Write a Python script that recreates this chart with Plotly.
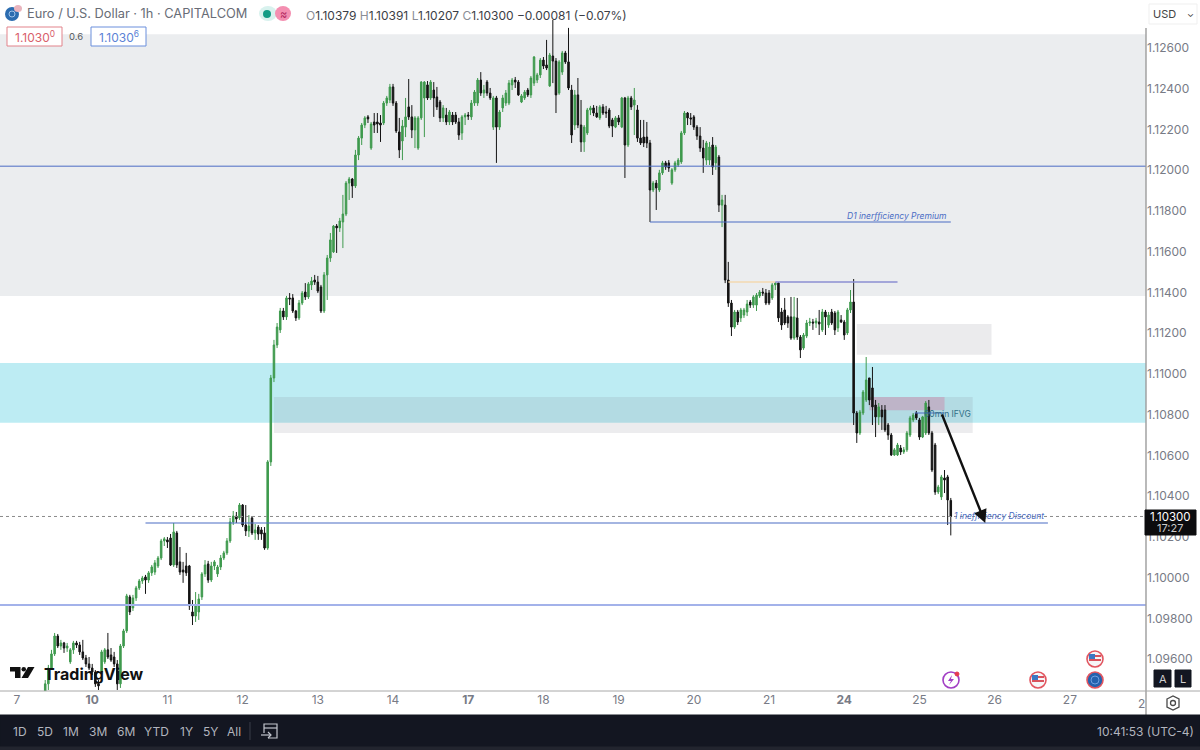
import plotly.graph_objects as go

# Candles, one hourly bar each, starting at bar 9 (bar 0 = day 7)
first_bar = 9

opens = [
    1.09443, 1.09478, 1.09556, 1.09625, 1.09713, 1.09664, 1.09679, 1.09654, 1.09586, 1.09645,
    1.09679, 1.09669, 1.09635, 1.09605, 1.09576, 1.09556, 1.09536, 1.09478, 1.09536, 1.09586,
    1.09645, 1.09620, 1.09610, 1.09576, 1.09478, 1.09664, 1.09738, 1.09905, 1.09851, 1.09900,
    1.09949, 1.09983, 1.10003, 1.09988, 1.10023, 1.10027, 1.10057, 1.10096, 1.10180, 1.10185,
    1.10194, 1.10062, 1.10219, 1.10077, 1.10037, 1.10057, 1.10057, 1.09831, 1.09811, 1.09831,
    1.09905, 1.10018, 1.10067, 1.09988, 1.10057, 1.10018, 1.10052, 1.10096, 1.10121, 1.10180,
    1.10273, 1.10302, 1.10293, 1.10356, 1.10258, 1.10229, 1.10293, 1.10219, 1.10248, 1.10234,
    1.10219, 1.10145, 1.10568, 1.10980, 1.11142, 1.11216, 1.11309, 1.11280, 1.11373, 1.11373,
    1.11309, 1.11275, 1.11348, 1.11402, 1.11378, 1.11437, 1.11461, 1.11451, 1.11427, 1.11309,
    1.11486, 1.11569, 1.11599, 1.11726, 1.11717, 1.11746, 1.11785, 1.11937, 1.11957, 1.11923,
    1.12075, 1.12158, 1.12222, 1.12262, 1.12109, 1.12237, 1.12237, 1.12232, 1.12232, 1.12330,
    1.12345, 1.12409, 1.12330, 1.12188, 1.12144, 1.12212, 1.12311, 1.12262, 1.12198, 1.12109,
    1.12257, 1.12355, 1.12419, 1.12355, 1.12394, 1.12360, 1.12335, 1.12257, 1.12271, 1.12237,
    1.12271, 1.12271, 1.12237, 1.12183, 1.12262, 1.12271, 1.12262, 1.12330, 1.12330, 1.12443,
    1.12379, 1.12433, 1.12379, 1.12212, 1.12355, 1.12212, 1.12306, 1.12330, 1.12330, 1.12419,
    1.12443, 1.12433, 1.12335, 1.12355, 1.12394, 1.12370, 1.12428, 1.12443, 1.12468, 1.12541,
    1.12517, 1.12414, 1.12561, 1.12536, 1.12379, 1.12482, 1.12576, 1.12532, 1.12394, 1.12222,
    1.12370, 1.12222, 1.12139, 1.12183, 1.12296, 1.12306, 1.12281, 1.12257, 1.12311, 1.12286,
    1.12296, 1.12247, 1.12212, 1.12257, 1.12212, 1.12355, 1.12124, 1.12355, 1.12320, 1.12296,
    1.12158, 1.12163, 1.12163, 1.12134, 1.11903, 1.11937, 1.11903, 1.11987, 1.12036, 1.12036,
    1.11937, 1.12002, 1.12026, 1.12041, 1.12183, 1.12281, 1.12257, 1.12262, 1.12212, 1.12168,
    1.12109, 1.12050, 1.12050, 1.12124, 1.12036, 1.12065, 1.11829, 1.11829, 1.11461, 1.11348,
    1.11230, 1.11304, 1.11275, 1.11289, 1.11304, 1.11353, 1.11338, 1.11338, 1.11383, 1.11402,
    1.11397, 1.11397, 1.11373, 1.11437, 1.11446, 1.11304, 1.11314, 1.11280, 1.11280, 1.11176,
    1.11275, 1.11181, 1.11127, 1.11186, 1.11250, 1.11255, 1.11250, 1.11255, 1.11216, 1.11304,
    1.11240, 1.11304, 1.11299, 1.11226, 1.11265, 1.11255, 1.11201, 1.11314, 1.11353, 1.10808,
    1.10710, 1.10808, 1.10872, 1.10980, 1.10931, 1.10847, 1.10789, 1.10823, 1.10823, 1.10749,
    1.10700, 1.10602, 1.10602, 1.10636, 1.10617, 1.10627, 1.10700, 1.10774, 1.10808, 1.10774,
    1.10690, 1.10710, 1.10838, 1.10710, 1.10651, 1.10420, 1.10396, 1.10489, 1.10494, 1.10379,
]

highs = [
    1.09497, 1.09571, 1.09645, 1.09728, 1.09723, 1.09694, 1.09684, 1.09679, 1.09654, 1.09689,
    1.09689, 1.09684, 1.09694, 1.09620, 1.09610, 1.09576, 1.09546, 1.09497, 1.09645, 1.09654,
    1.09728, 1.09654, 1.09635, 1.09595, 1.09674, 1.09748, 1.09920, 1.09915, 1.09915, 1.09959,
    1.09993, 1.10008, 1.10013, 1.10032, 1.10062, 1.10086, 1.10106, 1.10190, 1.10199, 1.10199,
    1.10214, 1.10268, 1.10229, 1.10150, 1.10077, 1.10121, 1.10062, 1.09890, 1.09929, 1.09920,
    1.10027, 1.10086, 1.10082, 1.10077, 1.10086, 1.10062, 1.10111, 1.10131, 1.10194, 1.10293,
    1.10327, 1.10322, 1.10366, 1.10361, 1.10356, 1.10307, 1.10302, 1.10263, 1.10258, 1.10248,
    1.10248, 1.10577, 1.10995, 1.11167, 1.11250, 1.11324, 1.11324, 1.11383, 1.11397, 1.11392,
    1.11314, 1.11363, 1.11407, 1.11446, 1.11451, 1.11476, 1.11486, 1.11481, 1.11437, 1.11500,
    1.11584, 1.11692, 1.11731, 1.11736, 1.11766, 1.11879, 1.11947, 1.11967, 1.11962, 1.12100,
    1.12168, 1.12232, 1.12266, 1.12271, 1.12237, 1.12281, 1.12281, 1.12271, 1.12340, 1.12365,
    1.12424, 1.12424, 1.12340, 1.12257, 1.12247, 1.12355, 1.12448, 1.12320, 1.12266, 1.12266,
    1.12438, 1.12438, 1.12438, 1.12443, 1.12433, 1.12409, 1.12345, 1.12320, 1.12306, 1.12296,
    1.12286, 1.12286, 1.12257, 1.12271, 1.12281, 1.12286, 1.12345, 1.12394, 1.12453, 1.12482,
    1.12419, 1.12443, 1.12404, 1.12365, 1.12365, 1.12296, 1.12370, 1.12394, 1.12443, 1.12453,
    1.12458, 1.12443, 1.12374, 1.12394, 1.12404, 1.12463, 1.12561, 1.12478, 1.12551, 1.12556,
    1.12640, 1.12576, 1.12738, 1.12551, 1.12541, 1.12586, 1.12586, 1.12699, 1.12419, 1.12394,
    1.12453, 1.12345, 1.12222, 1.12306, 1.12316, 1.12320, 1.12316, 1.12320, 1.12325, 1.12316,
    1.12306, 1.12257, 1.12266, 1.12271, 1.12360, 1.12360, 1.12365, 1.12365, 1.12404, 1.12320,
    1.12247, 1.12247, 1.12237, 1.12149, 1.11947, 1.11952, 1.12002, 1.12046, 1.12046, 1.12050,
    1.12011, 1.12046, 1.12060, 1.12193, 1.12291, 1.12286, 1.12281, 1.12271, 1.12222, 1.12212,
    1.12149, 1.12144, 1.12139, 1.12163, 1.12124, 1.12075, 1.11879, 1.11879, 1.11550, 1.11363,
    1.11314, 1.11314, 1.11324, 1.11324, 1.11363, 1.11363, 1.11387, 1.11397, 1.11412, 1.11422,
    1.11417, 1.11412, 1.11446, 1.11451, 1.11451, 1.11324, 1.11373, 1.11289, 1.11378, 1.11378,
    1.11373, 1.11191, 1.11201, 1.11265, 1.11275, 1.11270, 1.11275, 1.11314, 1.11319, 1.11314,
    1.11304, 1.11319, 1.11309, 1.11314, 1.11289, 1.11265, 1.11324, 1.11412, 1.11466, 1.10818,
    1.10823, 1.10921, 1.11083, 1.10980, 1.11034, 1.10872, 1.10857, 1.10847, 1.10847, 1.10759,
    1.10710, 1.10636, 1.10661, 1.10651, 1.10641, 1.10720, 1.10794, 1.10808, 1.10818, 1.10784,
    1.10794, 1.10867, 1.10872, 1.10720, 1.10661, 1.10455, 1.10504, 1.10528, 1.10504, 1.10391,
]

lows = [
    1.09428, 1.09448, 1.09546, 1.09615, 1.09654, 1.09645, 1.09630, 1.09635, 1.09576, 1.09625,
    1.09654, 1.09620, 1.09595, 1.09561, 1.09546, 1.09522, 1.09463, 1.09448, 1.09522, 1.09576,
    1.09600, 1.09586, 1.09561, 1.09448, 1.09458, 1.09654, 1.09728, 1.09816, 1.09836, 1.09885,
    1.09939, 1.09969, 1.09920, 1.09974, 1.10008, 1.10013, 1.10047, 1.10086, 1.10155, 1.10145,
    1.10057, 1.10052, 1.10047, 1.10013, 1.09974, 1.10008, 1.09841, 1.09767, 1.09782, 1.09792,
    1.09890, 1.10003, 1.09974, 1.09978, 1.10037, 1.10003, 1.10037, 1.10086, 1.10111, 1.10170,
    1.10258, 1.10268, 1.10283, 1.10248, 1.10204, 1.10199, 1.10209, 1.10185, 1.10185, 1.10185,
    1.10136, 1.10136, 1.10548, 1.10960, 1.11127, 1.11201, 1.11265, 1.11265, 1.11338, 1.11299,
    1.11260, 1.11265, 1.11338, 1.11363, 1.11368, 1.11412, 1.11437, 1.11397, 1.11299, 1.11299,
    1.11363, 1.11550, 1.11594, 1.11594, 1.11697, 1.11618, 1.11775, 1.11854, 1.11864, 1.11913,
    1.12050, 1.12124, 1.12207, 1.12232, 1.12100, 1.12183, 1.12183, 1.12139, 1.12222, 1.12316,
    1.12330, 1.12316, 1.12183, 1.12060, 1.12050, 1.12163, 1.12247, 1.12158, 1.12109, 1.12100,
    1.12247, 1.12163, 1.12345, 1.12345, 1.12262, 1.12296, 1.12237, 1.12237, 1.12222, 1.12222,
    1.12222, 1.12227, 1.12149, 1.12149, 1.12222, 1.12247, 1.12247, 1.12316, 1.12316, 1.12365,
    1.12355, 1.12365, 1.12345, 1.12198, 1.12036, 1.12198, 1.12286, 1.12316, 1.12320, 1.12394,
    1.12404, 1.12365, 1.12330, 1.12345, 1.12360, 1.12355, 1.12414, 1.12428, 1.12453, 1.12497,
    1.12492, 1.12409, 1.12428, 1.12281, 1.12370, 1.12468, 1.12522, 1.12394, 1.12134, 1.12198,
    1.12207, 1.12090, 1.12090, 1.12173, 1.12271, 1.12266, 1.12257, 1.12247, 1.12271, 1.12257,
    1.12207, 1.12163, 1.12207, 1.12222, 1.12207, 1.11962, 1.12114, 1.12296, 1.12173, 1.12139,
    1.12124, 1.12114, 1.12109, 1.11746, 1.11893, 1.11805, 1.11893, 1.11977, 1.12002, 1.11992,
    1.11928, 1.11992, 1.12016, 1.12031, 1.12173, 1.12222, 1.12222, 1.12198, 1.12149, 1.12090,
    1.11987, 1.12026, 1.12026, 1.11977, 1.12002, 1.11795, 1.11721, 1.11446, 1.11329, 1.11186,
    1.11221, 1.11240, 1.11255, 1.11275, 1.11284, 1.11324, 1.11324, 1.11309, 1.11373, 1.11383,
    1.11338, 1.11338, 1.11363, 1.11412, 1.11255, 1.11216, 1.11240, 1.11226, 1.11167, 1.11167,
    1.11167, 1.11078, 1.11118, 1.11176, 1.11235, 1.11216, 1.11226, 1.11191, 1.11206, 1.11191,
    1.11226, 1.11240, 1.11191, 1.11206, 1.11250, 1.11167, 1.11191, 1.11299, 1.10749, 1.10661,
    1.10700, 1.10798, 1.10862, 1.10847, 1.10749, 1.10690, 1.10749, 1.10725, 1.10715, 1.10676,
    1.10597, 1.10597, 1.10597, 1.10602, 1.10607, 1.10617, 1.10690, 1.10764, 1.10774, 1.10676,
    1.10685, 1.10700, 1.10700, 1.10518, 1.10406, 1.10410, 1.10381, 1.10415, 1.10258, 1.10207,
]

closes = [
    1.09478, 1.09556, 1.09625, 1.09713, 1.09664, 1.09679, 1.09654, 1.09664, 1.09645, 1.09679,
    1.09669, 1.09635, 1.09605, 1.09576, 1.09556, 1.09536, 1.09478, 1.09468, 1.09635, 1.09645,
    1.09610, 1.09595, 1.09576, 1.09478, 1.09664, 1.09738, 1.09910, 1.09831, 1.09900, 1.09949,
    1.09983, 1.09998, 1.09988, 1.10023, 1.10052, 1.10072, 1.10096, 1.10180, 1.10190, 1.10175,
    1.10062, 1.10224, 1.10062, 1.10027, 1.10027, 1.10023, 1.09861, 1.09811, 1.09865, 1.09895,
    1.10018, 1.10062, 1.09988, 1.10057, 1.10077, 1.10052, 1.10096, 1.10121, 1.10180, 1.10273,
    1.10302, 1.10288, 1.10356, 1.10258, 1.10229, 1.10253, 1.10219, 1.10234, 1.10214, 1.10214,
    1.10145, 1.10568, 1.10980, 1.11142, 1.11230, 1.11309, 1.11280, 1.11373, 1.11368, 1.11309,
    1.11275, 1.11348, 1.11397, 1.11378, 1.11442, 1.11456, 1.11451, 1.11407, 1.11309, 1.11486,
    1.11569, 1.11658, 1.11726, 1.11717, 1.11751, 1.11785, 1.11937, 1.11957, 1.11923, 1.12075,
    1.12158, 1.12222, 1.12257, 1.12252, 1.12227, 1.12222, 1.12227, 1.12222, 1.12330, 1.12355,
    1.12409, 1.12330, 1.12193, 1.12100, 1.12217, 1.12262, 1.12262, 1.12198, 1.12257, 1.12257,
    1.12433, 1.12433, 1.12355, 1.12433, 1.12355, 1.12311, 1.12257, 1.12306, 1.12237, 1.12286,
    1.12237, 1.12237, 1.12173, 1.12262, 1.12271, 1.12266, 1.12330, 1.12384, 1.12443, 1.12379,
    1.12394, 1.12379, 1.12355, 1.12355, 1.12212, 1.12286, 1.12355, 1.12379, 1.12428, 1.12443,
    1.12433, 1.12370, 1.12365, 1.12384, 1.12370, 1.12453, 1.12556, 1.12468, 1.12541, 1.12512,
    1.12502, 1.12566, 1.12536, 1.12370, 1.12532, 1.12576, 1.12532, 1.12404, 1.12173, 1.12370,
    1.12222, 1.12139, 1.12212, 1.12296, 1.12306, 1.12281, 1.12262, 1.12311, 1.12281, 1.12281,
    1.12217, 1.12217, 1.12257, 1.12237, 1.12355, 1.12124, 1.12355, 1.12311, 1.12345, 1.12158,
    1.12134, 1.12134, 1.12134, 1.11903, 1.11937, 1.11913, 1.11987, 1.12036, 1.12016, 1.12011,
    1.12002, 1.12036, 1.12050, 1.12183, 1.12281, 1.12257, 1.12252, 1.12212, 1.12168, 1.12109,
    1.12060, 1.12134, 1.12114, 1.12016, 1.12114, 1.11829, 1.11854, 1.11461, 1.11348, 1.11230,
    1.11304, 1.11255, 1.11314, 1.11314, 1.11343, 1.11338, 1.11378, 1.11387, 1.11402, 1.11397,
    1.11348, 1.11348, 1.11437, 1.11446, 1.11275, 1.11240, 1.11250, 1.11250, 1.11176, 1.11280,
    1.11181, 1.11118, 1.11191, 1.11250, 1.11255, 1.11250, 1.11260, 1.11245, 1.11304, 1.11280,
    1.11289, 1.11250, 1.11216, 1.11304, 1.11255, 1.11191, 1.11314, 1.11353, 1.10808, 1.10710,
    1.10813, 1.10911, 1.10970, 1.10872, 1.10838, 1.10789, 1.10838, 1.10789, 1.10725, 1.10700,
    1.10602, 1.10627, 1.10651, 1.10617, 1.10627, 1.10710, 1.10784, 1.10798, 1.10784, 1.10690,
    1.10789, 1.10857, 1.10710, 1.10528, 1.10420, 1.10445, 1.10494, 1.10479, 1.10381, 1.10300,
]

# Axis labels
day_labels = ["7", "<b>10</b>", "11", "12", "13", "14", "<b>17</b>", "18", "19", "20", "21",
              "<b>24</b>", "25", "26", "27"]
day_bars = [0, 24, 48, 72, 96, 120, 144, 168, 192, 216, 240, 264, 288, 312, 336]
price_ticks = [1.096, 1.098, 1.100, 1.102, 1.104, 1.106, 1.108, 1.110, 1.112, 1.114,
               1.116, 1.118, 1.120, 1.122, 1.124, 1.126]
range_buttons = ["1D", "5D", "1M", "3M", "6M", "YTD", "1Y", "5Y", "All"]
range_button_x = [20, 45, 71, 98, 126, 156, 186, 210, 234]

last_price = 1.10300
PLOT_W = 1146
PLOT_H = 691
DARK = "#131621"
BLUE = "#4a6cc4"


def px(x):
    return x / PLOT_W


def py(y):
    return 1 - y / PLOT_H


bars = list(range(first_bar, first_bar + len(closes)))

fig = go.Figure(go.Candlestick(
    x=bars, open=opens, high=highs, low=lows, close=closes,
    increasing=dict(line=dict(color="#3f9a4e", width=1), fillcolor="#3f9a4e"),
    decreasing=dict(line=dict(color="#141414", width=1), fillcolor="#141414"),
    whiskerwidth=0,
    hoverinfo="skip",
    showlegend=False,
))

shapes = []
notes = []


def zone(x0, x1, p0, p1, color):
    shapes.append(dict(type="rect", xref="x", yref="y", x0=x0, x1=x1, y0=p0, y1=p1,
                       fillcolor=color, line_width=0, layer="below"))


def level(x0, x1, p, color, width=1, dash="solid"):
    shapes.append(dict(type="line", xref="x", yref="y", x0=x0, x1=x1, y0=p, y1=p,
                       line=dict(color=color, width=width, dash=dash)))


def box(x0, y0, x1, y1, fill="rgba(0,0,0,0)", line="rgba(0,0,0,0)", width=1, kind="rect"):
    shapes.append(dict(type=kind, xref="paper", yref="paper", x0=px(x0), x1=px(x1),
                       y0=py(y0), y1=py(y1), fillcolor=fill, line=dict(color=line, width=width)))


def poly(points, fill="rgba(0,0,0,0)", line="rgba(0,0,0,0)", width=1, close=True):
    d = "M " + " L ".join(f"{px(x):.5f} {py(y):.5f}" for x, y in points) + (" Z" if close else "")
    shapes.append(dict(type="path", xref="paper", yref="paper", path=d, fillcolor=fill,
                       line=dict(color=line, width=width)))


def note(x, y, text, size=12, color="#555", anchor="left", font="Inter"):
    notes.append(dict(xref="paper", yref="paper", x=px(x), y=py(y), text=text, showarrow=False,
                      xanchor=anchor, yanchor="middle", borderpad=0,
                      font=dict(size=size, color=color, family=font)))


# Zones
x_left, x_right = -5.43, 360.3
zone(x_left, x_right, 1.11383, 1.12668, "#ebedef")
zone(x_left, x_right, 1.10760, 1.11054, "#bdecf3")
zone(82, 305, 1.10710, 1.10887, "rgba(120,123,134,0.14)")
zone(268, 311, 1.11094, 1.11245, "#ebebed")
zone(272, 296, 1.10822, 1.10887, "rgba(216,90,140,0.30)")

# Levels
level(x_left, x_right, 1.12020, "#4a6cc4", 1)
level(202, 298, 1.11746, "#4a6cc4", 1.2)
level(227, 242, 1.11451, "#f3d9b0", 1.5)
level(242, 281, 1.11451, "#8b8ed2", 1.5)
level(41, 329, 1.10268, "#4a6cc4", 1.2)
level(x_left, x_right, 1.09865, "#a3b2ea", 2)
level(286.5, 296, 1.10808, "#4a6cc4", 1)
level(x_left, x_right, last_price, "#8a8a8a", 1, "dot")

note(897, 216, "<i>D1 inerfficiency Premium</i>", 8.5, BLUE, "center")
note(947, 414, "60min IFVG", 8.5, "#2f6f86", "center")
note(953, 516, "<i>1 inefficiency Discount</i>", 8.5, BLUE)

# Trade arrow
notes.append(dict(xref="x", yref="y", axref="x", ayref="y", x=309, y=1.10268, ax=295, ay=1.10808,
                  text="", showarrow=True, arrowhead=2, arrowsize=1.1, arrowwidth=2.4,
                  arrowcolor="#111111"))

# Header
box(5, 7, 19, 21, fill="#2b6cb0", kind="circle")
box(9, 11, 15, 17, line="#9fc3ea", kind="circle")
box(14, 5, 22, 12, fill="#e9b4bd", kind="circle")
note(26, 14, "Euro / U.S. Dollar · 1h · CAPITALCOM", 12.8, "#686c76")
box(259, 6, 277, 21, fill="#d8f2ee", kind="circle")
box(275, 6, 291, 21, fill="#f48fb1", kind="circle")
box(263, 10, 271, 18, fill="#119c85", kind="circle")
note(283, 14, "≈", 11, "#b3275f", "center")
grey = '<span style="color:#8a8d96">%s</span>'
note(305, 15,
     grey % "O" + "1.10379 " + grey % "H" + "1.10391 " + grey % "L" + "1.10207 " + grey % "C"
     + "1.10300 −0.00081 (−0.07%)", 12, "#3b3e46")

box(7, 27, 62, 46, fill="#ffffff", line="#e2838b", width=1)
note(34.5, 37, "1.1030<sup>0</sup>", 12, "#d9606b", "center")
note(76, 37, "0.6", 9.5, "#555860", "center")
box(91, 27, 146, 46, fill="#ffffff", line="#6a8fdc", width=1)
note(118.5, 37, "1.1030<sup>6</sup>", 12, "#5b82d6", "center")

box(1149, 4, 1197, 24, fill="#ffffff", line="#efefef")
note(1152, 14, "USD", 11, "#444")
note(1190, 13, "⌄", 9, "#333", "center")

# Right axis, time axis and bottom bar
poly([(PLOT_W, 28), (PLOT_W, 715)], line="#9c9c9c", width=1.4, close=False)
poly([(0, 691), (1200, 691)], line="#a8a8a8", width=1, close=False)
note(1141, 703, "2", 12, "#787b86", "center")
box(1145, 510, 1196, 535, fill="#0c0c0e", line="#0c0c0e")
note(1170, 517, "1.10300", 11.5, "#ffffff", "center")
note(1170, 528, "17:27", 11, "#c9c9c9", "center")

box(1154, 670, 1171, 687, fill=DARK, line=DARK)
box(1175, 670, 1191, 687, fill=DARK, line=DARK)
note(1162.5, 679, "A", 11, "#d0d0d0", "center")
note(1183, 679, "L", 11, "#d0d0d0", "center")

poly([(1167, 699), (1173, 696), (1179, 699), (1179, 707), (1173, 710), (1167, 707)],
     line="#4a4a4a", width=1.3)
box(1170.5, 700.5, 1175.5, 705.5, line="#4a4a4a", width=1.3, kind="circle")

box(0, 715, 1200, 747, fill=DARK, line=DARK)
box(0, 747, 1200, 750, fill="#22252f", line="#22252f")
for label, lx in zip(range_buttons, range_button_x):
    note(lx, 731, label, 12, "#b2b5be", "center")
poly([(250, 722), (250, 740)], line="#3b3e48", width=1, close=False)
poly([(264, 733), (264, 724), (277, 724), (277, 738), (268, 738)], line="#c3c6ce", width=1.2, close=False)
poly([(264, 728), (277, 728)], line="#c3c6ce", width=1.2, close=False)
poly([(261, 735), (271, 735)], line="#c3c6ce", width=1.2, close=False)
poly([(268, 732), (271, 735), (268, 738)], line="#c3c6ce", width=1.2, close=False)
note(1195, 731, "10:41:53 (UTC-4)", 12, "#b2b5be", "right")

# TradingView logo
poly([(10, 667), (20.5, 667), (20.5, 678), (15, 678), (15, 671.5), (10, 671.5)], fill="#111111")
box(21.5, 667, 26, 671.5, fill="#111111", kind="circle")
poly([(28, 667), (34.5, 667), (28, 678), (21.5, 678)], fill="#111111")
note(43, 674, "<b>TradingView</b>", 16, "#111111")

# Event icons
box(943, 672, 959, 688, fill="#ffffff", line="#a23ec4", width=1.6, kind="circle")
poly([(952, 675), (948, 681), (951, 681), (949, 685), (954, 679), (951, 679)], fill="#a23ec4")
box(955, 672, 959, 676, fill="#e53950", line="#e53950", kind="circle")
for cx, cy in [(1038, 680), (1095, 659)]:
    box(cx - 8, cy - 8, cx + 8, cy + 8, fill="#f6f6f8", line="#e2555f", width=1.6, kind="circle")
    box(cx - 6, cy - 5, cx, cy, fill="#3b78c4")
    box(cx - 6, cy, cx + 6, cy + 2, fill="#d9535d")
    box(cx, cy - 4, cx + 6, cy - 2, fill="#d9535d")
box(1087, 672, 1103, 688, fill="#2462ae", line="#e2555f", width=1.6, kind="circle")
box(1091, 676, 1099, 684, line="#6f9fe0", width=1, kind="circle")

fig.update_layout(
    width=1200,
    height=750,
    margin=dict(l=0, r=1200 - PLOT_W, t=0, b=750 - PLOT_H),
    paper_bgcolor="#ffffff",
    plot_bgcolor="#ffffff",
    showlegend=False,
    hovermode=False,
    shapes=shapes,
    annotations=notes,
    font=dict(family="Inter"),
    xaxis=dict(
        range=[x_left, x_right],
        rangeslider=dict(visible=False),
        tickmode="array",
        tickvals=day_bars,
        ticktext=day_labels,
        tickfont=dict(size=12, color="#787b86"),
        showgrid=False,
        zeroline=False,
        showline=False,
        ticks="",
    ),
    yaxis=dict(
        side="right",
        range=[1.09443, 1.12836],
        tickmode="array",
        tickvals=price_ticks,
        tickformat=".5f",
        tickfont=dict(size=12, color="#787b86"),
        showgrid=False,
        zeroline=False,
        showline=False,
        ticks="",
    ),
)

fig.write_html("out.html", config=dict(displayModeBar=False),
               post_script="document.body.style.margin='0';document.documentElement.style.overflow='hidden';")
